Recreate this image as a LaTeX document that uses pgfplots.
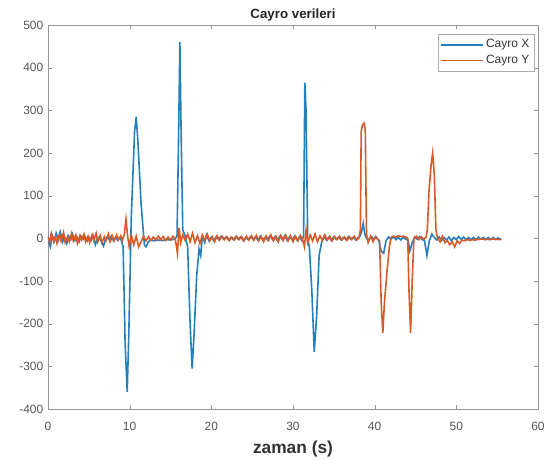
\documentclass[border=0pt]{standalone}
\usepackage{pgfplots}
\pgfplotsset{compat=1.18}
\usepackage{fontspec}
\setmainfont{Liberation Sans}
\definecolor{mblue}{RGB}{35,128,190}
\definecolor{morange}{RGB}{217,90,40}
\definecolor{axgray}{RGB}{150,150,150}
\definecolor{txtgray}{RGB}{85,85,85}

\pgfplotstableread{
x y
0 -5
0.3 -20
0.5 8
0.8 -6
1.0 12
1.3 -4
1.5 15
1.8 -8
2.0 5
2.3 -12
2.5 6
2.8 -3
3.0 10
3.3 -5
3.5 4
3.8 -8
4.0 6
4.3 -2
4.5 5
4.8 -6
5.0 3
5.3 -4
5.5 7
5.8 -15
6.0 -3
6.3 4
6.5 -6
6.8 -18
7.0 -4
7.3 5
7.5 -3
7.8 6
8.0 -5
8.3 3
8.5 -4
8.8 2
9.0 -6
9.2 -20
9.45 -250
9.7 -360
9.9 -220
10.2 50
10.6 250
10.8 285
11.0 230
11.4 80
11.8 -15
12.0 -20
12.3 -8
12.6 -3
13.0 -6
13.5 -4
14.0 -5
14.5 -3
15.0 -4
15.5 -2
15.8 5
16.0 250
16.15 460
16.3 250
16.5 20
16.8 5
17.1 -20
17.4 -200
17.65 -305
17.9 -220
18.2 -90
18.5 -25
18.7 -40
18.9 5
19.2 -10
19.4 8
19.7 -5
20.0 3
20.3 -6
20.6 4
20.9 -3
21.2 5
21.5 -2
21.8 3
22.1 -4
22.4 2
22.7 -3
23.0 4
23.3 -2
23.6 3
23.9 -5
24.2 2
24.5 -3
24.8 4
25.1 -2
25.4 3
25.7 -4
26.0 5
26.3 -3
26.6 2
26.9 -4
27.2 6
27.5 -3
27.8 4
28.1 -6
28.4 5
28.7 -3
29.0 6
29.3 -5
29.6 4
29.9 -3
30.2 5
30.5 -4
30.8 3
31.1 -5
31.3 5
31.45 365
31.6 300
31.8 0
32.0 -20
32.3 -120
32.6 -266
32.9 -180
33.2 -40
33.5 -10
33.8 5
34.1 -4
34.4 3
34.7 -5
35.0 4
35.3 -2
35.6 3
35.9 -4
36.2 2
36.5 -3
36.8 4
37.1 -2
37.4 3
37.7 -4
38.0 2
38.2 5
38.4 15
38.6 35
38.8 10
39.0 0
39.3 -3
39.6 4
39.9 -2
40.2 3
40.5 -5
40.8 -30
41.1 -35
41.4 -5
41.7 3
42.0 -2
42.3 4
42.6 -3
42.9 2
43.2 -4
43.5 3
43.8 -2
44.1 -5
44.3 -30
44.6 -10
44.9 3
45.2 -2
45.5 4
45.8 -3
46.1 -5
46.4 -40
46.7 -5
47.0 10
47.3 2
47.6 -4
47.9 3
48.2 -5
48.5 2
48.8 -4
49.1 3
49.4 -6
49.7 2
50.0 -3
50.3 4
50.6 -2
50.9 3
51.2 -4
51.5 2
51.8 -3
52.1 2
52.4 -4
52.7 3
53.0 -2
53.3 2
53.6 -3
53.9 2
54.2 -3
54.5 2
54.8 -3
55.1 1
55.5 -3
}\cayrox

\pgfplotstableread{
x y
0 3
0.2 -10
0.4 12
0.7 -8
0.9 5
1.1 -12
1.4 10
1.6 -6
1.9 14
2.1 -10
2.4 4
2.6 -8
2.9 12
3.1 -6
3.4 8
3.6 -12
3.9 6
4.1 -4
4.4 10
4.6 -8
4.9 5
5.1 -10
5.4 8
5.6 -5
5.9 12
6.1 -8
6.4 6
6.6 -10
6.9 4
7.1 -6
7.4 10
7.6 -8
7.9 5
8.1 -6
8.4 8
8.6 -4
8.9 6
9.1 -5
9.35 10
9.55 45
9.75 5
9.95 -20
10.2 8
10.5 -15
10.8 5
11.1 -20
11.4 -8
11.7 5
12.0 -6
12.3 4
12.6 -5
12.9 3
13.2 -4
13.5 5
13.8 -3
14.1 4
14.4 -5
14.7 3
15.0 -4
15.3 5
15.6 -3
15.85 -35
16.05 25
16.25 -10
16.5 8
16.8 -5
17.1 10
17.4 -8
17.7 12
18.0 -10
18.3 6
18.6 -12
18.9 8
19.2 -5
19.5 10
19.8 -6
20.1 4
20.4 -8
20.7 6
21.0 -4
21.3 5
21.6 -3
21.9 4
22.2 -5
22.5 3
22.8 -4
23.1 5
23.4 -3
23.7 4
24.0 -6
24.3 5
24.6 -4
24.9 6
25.2 -5
25.5 7
25.8 -6
26.1 5
26.4 -8
26.7 6
27.0 -5
27.3 8
27.6 -6
27.9 5
28.2 -8
28.5 7
28.8 -5
29.1 8
29.4 -6
29.7 6
30.0 -8
30.3 5
30.6 -6
30.9 7
31.2 -5
31.4 -20
31.6 20
31.8 -10
32.1 8
32.4 -6
32.7 10
33.0 -8
33.3 6
33.6 -5
33.9 8
34.2 -4
34.5 5
34.8 -6
35.1 4
35.4 -3
35.7 5
36.0 -4
36.3 3
36.6 -5
36.9 4
37.2 -3
37.5 5
37.8 -4
38.1 2
38.25 20
38.35 250
38.5 265
38.7 270
38.85 255
39.0 10
39.2 -10
39.5 5
39.8 -8
40.1 4
40.4 -3
40.6 -5
40.8 -150
41.0 -222
41.2 -150
41.5 -80
41.8 -20
42.0 2
42.3 5
42.6 3
42.9 6
43.2 4
43.5 5
43.8 3
44.05 0
44.2 -120
44.4 -222
44.6 -100
44.8 0
45.1 5
45.4 -3
45.7 4
46.0 -2
46.3 3
46.45 20
46.65 110
46.9 170
47.1 200
47.3 150
47.5 20
47.7 0
48.0 -8
48.3 5
48.6 -10
48.9 -5
49.2 -15
49.5 -8
49.8 -20
50.1 -6
50.4 -12
50.7 -4
51.0 -6
51.3 -2
51.6 -5
51.9 -3
52.2 -4
52.5 -2
52.8 -3
53.1 -1
53.4 -3
53.7 -2
54.0 -3
54.3 -1
54.6 -2
54.9 -2
55.2 -3
55.5 -2
}\cayroy

\begin{document}
\begin{tikzpicture}
\begin{axis}[
    name=ax,
    at={(0,0)}, anchor=south west,
    scale only axis,
    width=367.5pt, height=288pt,
    xmin=0, xmax=60, ymin=-400, ymax=500,
    xtick={0,10,...,60},
    ytick={-400,-300,...,500},
    tick align=inside,
    tick pos=both,
    axis line style={axgray},
    tick style={axgray},
    major tick length=3pt,
    ticklabel style={font=\fontsize{9}{10}\selectfont, text=txtgray},
    xticklabel style={yshift=-6pt},
    /pgf/number format/assume math mode=true,
    title={\bfseries Cayro verileri},
    title style={font=\fontsize{10}{11}\selectfont, text=black!85, yshift=-6.5pt},
    xlabel={\bfseries zaman (s)},
    xlabel style={font=\fontsize{13}{14}\selectfont, text=black!80, yshift=-1.5pt},
    legend style={font=\fontsize{9}{10.5}\selectfont, draw=axgray!80,
        text=txtgray!60!black,
        at={(rel axis cs:1,1)}, anchor=north east, xshift=-2.25pt, yshift=-6.75pt,
        inner sep=2pt, row sep=0pt},
    legend cell align=left,
    legend image code/.code={\draw[#1, line width=1.2pt] (0pt,0pt) -- (31pt,0pt);},
]
\addplot[mblue, line width=1.2pt] table[x=x,y=y] {\cayrox};
\addlegendentry{Cayro X}
\addplot[morange, line width=1.2pt] table[x=x,y=y] {\cayroy};
\addlegendentry{Cayro Y}
\end{axis}
\pgfresetboundingbox
\path[use as bounding box] (-36pt,-38.25pt) rectangle (376.5pt,306.75pt);
\end{tikzpicture}
\end{document}
